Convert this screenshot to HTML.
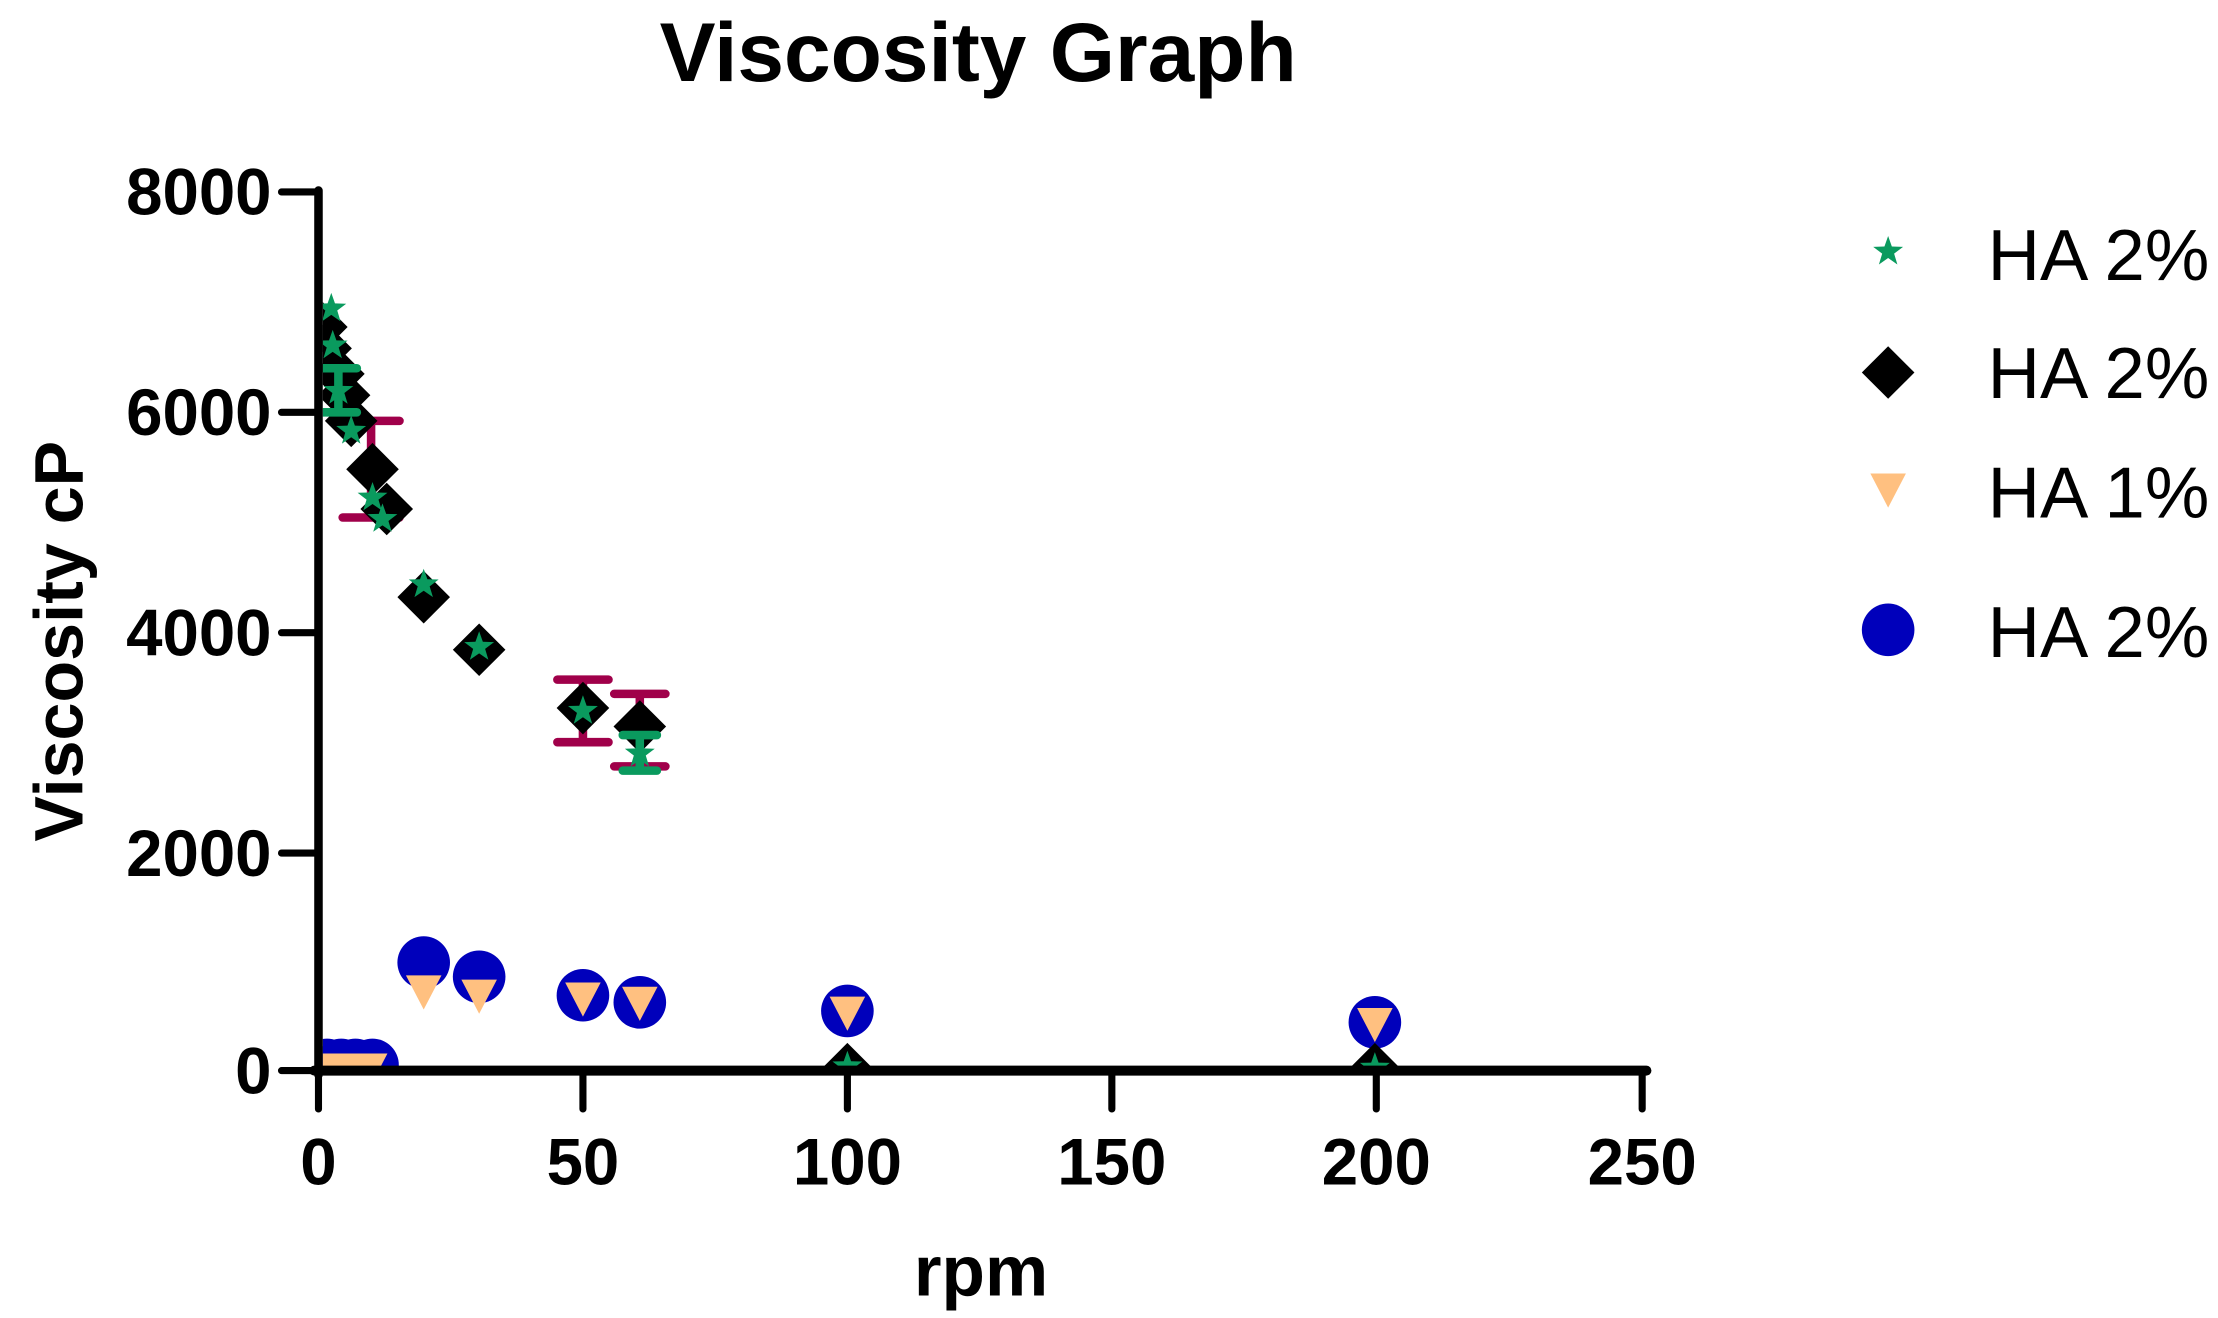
<!DOCTYPE html>
<html><head><meta charset="utf-8"><style>html,body{margin:0;padding:0;background:#fff}svg{display:block}</style></head>
<body>
<svg width="2218" height="1318" viewBox="0 0 1560 927" xmlns="http://www.w3.org/2000/svg" font-family="Liberation Sans, Arial, sans-serif">
<defs>
<path id="st" d="M0,-11 L2.6,-3.6 L10.5,-3.4 L4.2,1.4 L6.5,9 L0,4.5 L-6.5,9 L-4.2,1.4 L-10.5,-3.4 L-2.6,-3.6Z" fill="#0a9a5e"/>
<path id="dm" d="M0,-18.5 L18.5,0 L0,18.5 L-18.5,0Z" fill="#000"/>
<path id="tr" d="M-12.5,-11 L12.5,-11 L0,13Z" fill="#ffc080"/>
<circle id="ci" r="18.5" fill="#0000bb"/>
<clipPath id="cp"><rect x="227" y="60" width="1000" height="690"/></clipPath>
</defs>
<text x="688" y="57" font-size="59" font-weight="bold" text-anchor="middle">Viscosity Graph</text>
<g clip-path="url(#cp)">
<use href="#ci" x="230" y="749"/><use href="#ci" x="240" y="749"/><use href="#ci" x="250" y="749"/><use href="#ci" x="262" y="749"/>
<use href="#ci" x="298" y="677"/><use href="#ci" x="337" y="687"/><use href="#ci" x="410" y="700"/><use href="#ci" x="450" y="705"/><use href="#ci" x="596" y="711"/><use href="#ci" x="967" y="719"/>
<use href="#tr" x="232" y="752"/><use href="#tr" x="242" y="752"/><use href="#tr" x="252" y="752"/><use href="#tr" x="260" y="752"/>
<use href="#tr" x="298" y="697"/><use href="#tr" x="337" y="700"/><use href="#tr" x="410" y="702"/><use href="#tr" x="450" y="705"/><use href="#tr" x="596" y="712"/><use href="#tr" x="967" y="720"/>
<g stroke="#a0004a" stroke-width="6" stroke-linecap="round" fill="none">
<path d="M261,296 V364 M241,296 H281 M241,364 H281"/>
<path d="M410,478 V522 M392,478 H428 M392,522 H428"/>
<path d="M450,488 V539 M432,488 H468 M432,539 H468"/>
</g>
<use href="#dm" x="226" y="230"/><use href="#dm" x="229" y="245"/><use href="#dm" x="238" y="263"/><use href="#dm" x="242" y="278"/><use href="#dm" x="247" y="296"/>
<use href="#dm" x="262" y="330"/><use href="#dm" x="272" y="358"/><use href="#dm" x="298" y="420"/><use href="#dm" x="337" y="457"/><use href="#dm" x="410" y="498"/><use href="#dm" x="450" y="511"/>
<use href="#dm" x="596" y="752"/><use href="#dm" x="967" y="752"/>
<g stroke="#0a9a5e" stroke-width="6" stroke-linecap="round" fill="none">
<path d="M238,259 V290 M226,259 H251 M226,290 H251"/>
<path d="M450,517 V542 M438,517 H462 M438,542 H462"/>
</g>
<use href="#st" x="233" y="217"/><use href="#st" x="234" y="243"/><use href="#st" x="238" y="275"/><use href="#st" x="247" y="303"/>
<use href="#st" x="262" y="350"/><use href="#st" x="269" y="365"/><use href="#st" x="298" y="411"/><use href="#st" x="337" y="455"/><use href="#st" x="410" y="500"/><use href="#st" x="450" y="530"/>
<use href="#st" x="596" y="750"/><use href="#st" x="967" y="751"/>
</g>
<g stroke="#000" stroke-linecap="round" fill="none">
<path d="M224,134 V756" stroke-width="6"/>
<path d="M221,753 H1158" stroke-width="7"/>
<path d="M198,135 H224 M198,290 H224 M198,445 H224 M198,600 H224 M198,753 H224" stroke-width="5"/>
<path d="M224,753 V780 M410,753 V780 M596,753 V780 M782,753 V780 M968,753 V780 M1155,753 V780" stroke-width="5"/>
</g>
<g font-size="46" font-weight="bold" text-anchor="end">
<text x="191" y="151">8000</text><text x="191" y="306">6000</text><text x="191" y="461">4000</text><text x="191" y="616">2000</text><text x="191" y="769">0</text>
</g>
<g font-size="46" font-weight="bold" text-anchor="middle">
<text x="224" y="833">0</text><text x="410" y="833">50</text><text x="596" y="833">100</text><text x="782" y="833">150</text><text x="968" y="833">200</text><text x="1155" y="833">250</text>
</g>
<text x="690" y="911" font-size="50" font-weight="bold" text-anchor="middle">rpm</text>
<text transform="translate(58,451) rotate(-90)" font-size="48" font-weight="bold" text-anchor="middle">Viscosity cP</text>
<use href="#st" x="1328" y="177"/>
<use href="#dm" x="1328" y="262"/>
<use href="#tr" x="1328" y="344"/>
<use href="#ci" x="1328" y="443"/>
<g font-size="51">
<text x="1398" y="197">HA 2%</text><text x="1398" y="280">HA 2%</text><text x="1398" y="364">HA 1%</text><text x="1398" y="462">HA 2%</text>
</g>
</svg>
</body></html>
